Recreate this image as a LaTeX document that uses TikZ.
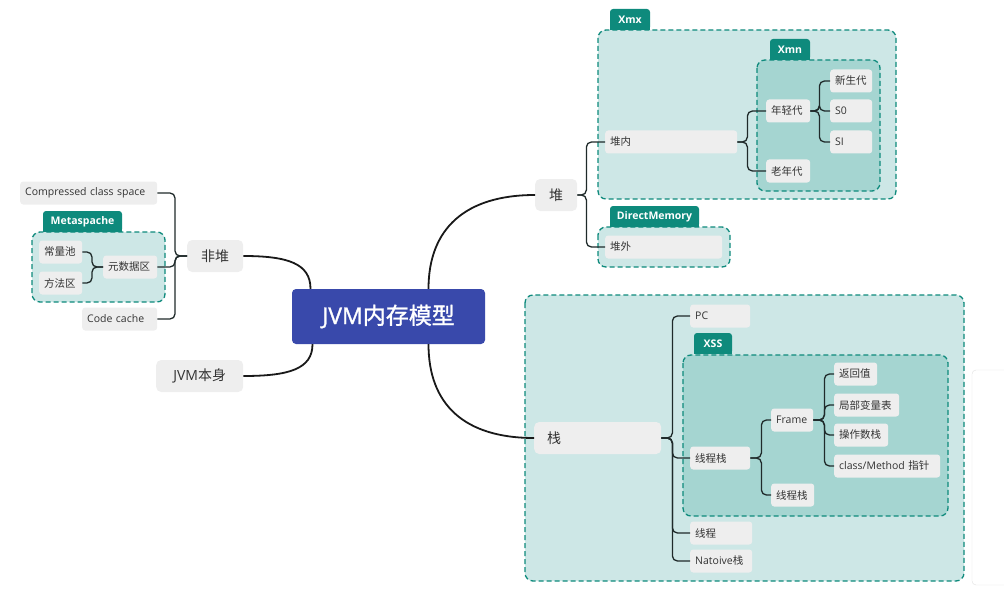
\documentclass[tikz,border=0pt]{standalone}
\usepackage{fontspec}
\setmainfont{Noto Sans CJK SC}
\newfontfamily\latfont{Open Sans}
\newfontfamily\rootfont{Noto Sans CJK SC}[FakeBold=1.2]
\newfontfamily\rootlat{Open Sans}[FakeBold=1.2]
\newcommand\lat[1]{{\latfont #1}}
\newcommand\leaffont{\fontsize{10.5}{12}\selectfont}
\newcommand\hubfont{\fontsize{14}{16}\selectfont}
\usetikzlibrary{calc}

\definecolor{rootblue}{HTML}{3949AB}
\definecolor{nodegray}{HTML}{EEEEEE}
\definecolor{textgray}{HTML}{333333}
\definecolor{teallight}{HTML}{CDE7E6}
\definecolor{tealmid}{HTML}{A5D5D1}
\definecolor{tealdark}{HTML}{0E8A7C}
\definecolor{linedark}{HTML}{1F2A2A}

\begin{document}
\begin{tikzpicture}[x=1pt, y=-1pt,
  leaf/.style={fill=nodegray, rounded corners=3, anchor=west, minimum height=23,
    inner xsep=5, inner ysep=2, text width=#1, align=left, font=\leaffont, text=textgray},
  hub/.style={fill=nodegray, rounded corners=5, anchor=west, minimum height=32,
    inner xsep=13, text width=#1, align=center, font=\hubfont, text=textgray},
  root/.style={fill=rootblue, rounded corners=4, minimum width=193, minimum height=55,
    text=white, font=\fontsize{23}{26}\selectfont\rootfont},
  grp/.style={draw=tealdark, line width=1.3, dash pattern=on 5pt off 3pt, rounded corners=8},
  tab/.style={fill=tealdark, rounded corners=3, minimum height=21, minimum width=#1,
    inner sep=0, text=white, font=\fontsize{10.5}{12}\selectfont\latfont\bfseries},
  link/.style={draw=linedark, line width=1.3, rounded corners=5},
  trunk/.style={draw=black!90, line width=1.8}]
\useasboundingbox (0,0) rectangle (1004,591);

% side panel at right edge
\draw[black!12, fill=white, rounded corners=4] (972,370) rectangle (1012,585);

% group boxes
\draw[grp, fill=teallight] (598,30) rectangle (896,199);
\draw[grp, fill=tealmid] (757,60) rectangle (880,191);
\draw[grp, fill=teallight] (598,227) rectangle (730,267);
\draw[grp, fill=teallight] (32,232) rectangle (165,302);
\draw[grp, fill=teallight] (525,295) rectangle (964,581);
\draw[grp, fill=tealmid] (683,355) rectangle (948,516);

% tabs
\node[tab=40] (xmxtab) at (630,19.5) {Xmx};
\node[tab=40] (xmntab) at (790,49.5) {Xmn};
\node[tab=89] (dmtab) at (654.5,216.5) {DirectMemory};
\node[tab=79] (metatab) at (82.5,221.5) {Metaspache};
\node[tab=38] (xsstab) at (713,343.5) {XSS};
\foreach \t in {xmxtab,xmntab,dmtab,metatab,xsstab}
  \fill[tealdark] ($(\t.south west)+(0,-4)$) rectangle (\t.south east);

% root and main branches
\node[root] (root) at (388.5,316.5) {{\rootlat JVM}内存模型};
\node[hub=16] (dui) at (535,195) {堆};
\node[hub=30] (feidui) at (187,256) {非堆};
\node[hub=61] (jvm) at (156,376) {\lat{JVM}本身};
\node[hub=101, align=left] (zhan) at (534,438) {栈};

\draw[trunk] ([xshift=40]root.north) .. controls +(0,-60) and +(-70,0) .. (dui.west);
\draw[trunk] ([xshift=40]root.south) .. controls +(0,60) and +(-70,0) .. (zhan.west);
\draw[trunk] (feidui.east) .. controls +(45,0) and +(0,-25) .. ([xshift=-78]root.north);
\draw[trunk] (jvm.east) .. controls +(45,0) and +(0,25) .. ([xshift=-76]root.south);

% heap
\node[leaf=122] (duinei) at (605,142) {堆内};
\node[leaf=34] (nianqing) at (766,111) {年轻代};
\node[leaf=34] (laonian) at (766,171) {老年代};
\node[leaf=32] (xinsheng) at (830,81) {新生代};
\node[leaf=32] (szero) at (830,111) {\lat{S0}};
\node[leaf=32] (sone) at (830,142) {\lat{SI}};
\node[leaf=107] (duiwai) at (605,247) {堆外};

\draw[link] (dui.east) -- ++(9,0) |- (duinei.west);
\draw[link] (dui.east) -- ++(9,0) |- (duiwai.west);
\draw[link] (duinei.east) -- ++(10,0) |- (nianqing.west);
\draw[link] (duinei.east) -- ++(10,0) |- (laonian.west);
\foreach \n in {xinsheng,szero,sone}
  \draw[link] (nianqing.east) -- ++(9,0) |- (\n.west);

% non-heap
\node[leaf=127] (ccs) at (20,193) {\lat{Compressed class space}};
\node[leaf=44] (yuanshuju) at (103,267) {元数据区};
\node[leaf=33] (changliang) at (39,252) {常量池};
\node[leaf=33] (fangfa) at (39,283) {方法区};
\node[leaf=65] (codecache) at (82,319) {\lat{Code cache}};

\foreach \n in {ccs,yuanshuju,codecache}
  \draw[link] (feidui.west) -- ++(-12,0) |- (\n.east);
\foreach \n in {changliang,fangfa}
  \draw[link] (yuanshuju.west) -- ++(-11,0) |- (\n.east);

% stack
\node[leaf=50] (pc) at (690,316) {\lat{PC}};
\node[leaf=50] (xcz1) at (690,458) {线程栈};
\node[leaf=52] (xiancheng) at (690,533) {线程};
\node[leaf=52] (native) at (690,561) {\lat{Natoive}栈};
\node[leaf=32] (frame) at (771,420) {\lat{Frame}};
\node[leaf=33] (xcz2) at (771,495) {线程栈};
\node[leaf=33] (fanhui) at (834,374) {返回值};
\node[leaf=55] (jubu) at (834,405) {局部变量表};
\node[leaf=44] (caozuo) at (834,435) {操作数栈};
\node[leaf=96] (classm) at (834,466) {\mbox{\lat{class/Method} 指针}};

\foreach \n in {pc,xcz1,xiancheng,native}
  \draw[link] (zhan.east) -- ++(11,0) |- (\n.west);
\foreach \n in {frame,xcz2}
  \draw[link] (xcz1.east) -- ++(11,0) |- (\n.west);
\foreach \n in {fanhui,jubu,caozuo,classm}
  \draw[link] (frame.east) -- ++(11,0) |- (\n.west);
\end{tikzpicture}
\end{document}
